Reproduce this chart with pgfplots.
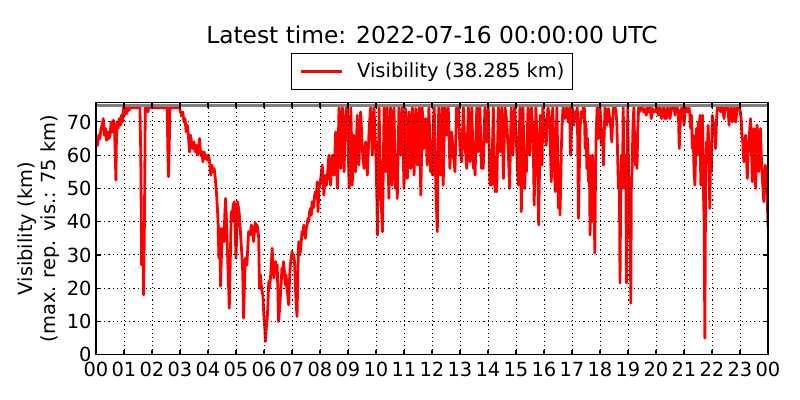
\documentclass[border=0pt]{standalone}
\usepackage{fontspec}
\setmainfont{DejaVu Sans}
\usepackage{pgfplots}
\pgfplotsset{compat=1.18}
\begin{document}
\begin{tikzpicture}
\useasboundingbox (-69.12pt,-32.6pt) rectangle (506.88pt,255.4pt);
\begin{axis}[
  at={(0,0)}, anchor=south west,
  scale only axis, width=483.84pt, height=181.5pt,
  xmin=0, xmax=24, ymin=0, ymax=75.8,
  xtick={0,1,...,24},
  xticklabels={00,01,02,03,04,05,06,07,08,09,10,11,12,13,14,15,16,17,18,19,20,21,22,23,00},
  ytick={0,10,...,70},
  tick align=inside, major tick length=3.6pt,
  xtick pos=both, ytick pos=both,
  grid=major,
  major grid style={black, line width=0.7pt, dash pattern=on 0.8pt off 2.2pt},
  axis line style={line width=0.8pt},
  every tick/.style={black, line width=0.8pt},
  axis on top,
  tick label style={font=\fontsize{14}{16.8}\selectfont},
  /pgf/number format/assume math mode=true,
  xticklabel style={inner ysep=5pt, inner xsep=0pt},
  yticklabel style={inner xsep=3pt, inner ysep=0pt},
  title={Latest time: 2022-07-16 00:00:00 UTC},
  every axis title/.style={at={(0.5,1)}, anchor=base, yshift=42.6pt, font=\fontsize{16.8}{20}\selectfont},
  ylabel={Visibility (km)\\(max. rep. vis.: 75 km)},
  every axis y label/.style={at={(rel axis cs:0,0.5)}, xshift=-41.5pt, rotate=90, anchor=center, align=center, font=\fontsize{14}{16.8}\selectfont},
  legend style={at={(0.5,1)}, anchor=south, yshift=9.1pt, draw=black, line width=0.8pt,
    font=\fontsize{14}{16.8}\selectfont, inner xsep=5.8pt, inner ysep=6.5pt,
    nodes={inner sep=0pt, text depth=0.2em},
    /tikz/every odd column/.append style={column sep=10pt}},
  legend image code/.code={\draw[#1, line width=2pt] (0pt,0pt) -- (29.5pt,0pt);},
]
\addplot[red, line width=2pt, line join=round] coordinates {
(0.00,62.5) (0.03,64) (0.06,63) (0.10,66) (0.14,65) (0.18,68) (0.22,69) (0.26,71) (0.30,66) (0.34,68) (0.38,64.5) (0.42,67) (0.46,65) (0.50,66) (0.54,70) (0.58,67) (0.62,70.5) (0.66,68) (0.69,60) (0.71,52.5) (0.73,65) (0.75,70) (0.79,68) (0.83,71) (0.87,69) (0.91,72) (0.95,70) (0.98,74.3) (1.02,72) (1.06,74.3) (1.10,72.5) (1.14,74.3) (1.18,73.5) (1.22,74.3) (1.35,74.3) (1.50,74.3) (1.57,74.3) (1.60,60) (1.63,27) (1.66,40) (1.70,18) (1.73,40) (1.76,74.3) (1.82,74.3) (1.85,73) (1.88,74.3) (2.10,74.3) (2.35,74.3) (2.54,74.3) (2.57,60) (2.59,53.5) (2.61,60) (2.64,74.3) (2.85,74.3) (2.98,74.3)
(3.02,73) (3.06,72) (3.10,73) (3.14,70) (3.18,71) (3.22,67) (3.26,69) (3.30,66) (3.34,61) (3.38,66) (3.42,63) (3.46,62) (3.50,64) (3.54,61) (3.58,63) (3.62,60) (3.66,62) (3.70,65) (3.74,60) (3.78,61) (3.82,58) (3.86,61) (3.90,59) (3.94,60) (3.98,58.5) (4.02,60) (4.06,58) (4.10,54) (4.14,57) (4.18,55) (4.22,56) (4.26,53) (4.30,49)
(4.33,45) (4.36,40) (4.39,29) (4.42,38) (4.45,20.6) (4.48,30) (4.51,38) (4.54,36) (4.57,34) (4.60,42) (4.63,47) (4.66,40) (4.69,32) (4.72,25) (4.76,14) (4.80,30) (4.83,43) (4.86,40) (4.90,45) (4.94,46) (4.97,38) (5.00,29) (5.03,38) (5.06,46) (5.09,44) (5.12,42) (5.15,38) (5.18,34) (5.21,30) (5.24,25) (5.27,11) (5.30,20) (5.33,29) (5.36,28) (5.39,27) (5.42,32) (5.45,37) (5.50,36) (5.55,39) (5.59,37) (5.63,34) (5.66,38) (5.69,39.7) (5.72,37) (5.75,39) (5.78,38) (5.81,35) (5.84,20) (5.87,24) (5.90,21) (5.93,19) (5.96,18) (6.00,11) (6.03,8) (6.05,4) (6.08,8) (6.11,10) (6.14,15) (6.17,22) (6.20,20) (6.23,23) (6.26,27) (6.29,32) (6.32,27) (6.35,23) (6.38,25) (6.41,28) (6.44,25) (6.47,27) (6.50,18) (6.52,10) (6.55,13) (6.58,17) (6.61,21) (6.64,26) (6.67,24) (6.70,28) (6.73,25) (6.76,21) (6.79,24) (6.82,20) (6.85,18) (6.88,15) (6.91,22) (6.94,27) (6.97,29) (7.00,31) (7.03,29) (7.06,30) (7.09,28) (7.12,21) (7.15,15) (7.18,11.5) (7.21,25) (7.24,34) (7.27,30) (7.30,31) (7.33,34) (7.36,37) (7.39,36) (7.42,39) (7.45,37) (7.48,35) (7.51,38) (7.54,39) (7.57,41) (7.60,40) (7.63,43) (7.66,44) (7.69,42) (7.72,46) (7.75,44) (7.78,45) (7.81,48) (7.84,49) (7.87,47) (7.90,52) (7.93,43) (7.96,50) (8.00,51) (8.04,54) (8.08,57) (8.11,53) (8.14,48) (8.17,52) (8.20,54) (8.23,51) (8.26,53) (8.29,57) (8.32,60) (8.35,56) (8.38,51) (8.41,56) (8.44,60) (8.47,57)
(8.50,54) (8.53,60) (8.56,67) (8.59,60) (8.62,50) (8.65,62) (8.68,74.3) (8.71,66) (8.74,56) (8.77,66) (8.80,74.3) (8.83,65) (8.86,55) (8.89,65) (8.92,72) (8.95,74.3) (8.98,74.3) (9.01,62) (9.04,50) (9.07,62) (9.10,74.3) (9.13,63) (9.15,51) (9.18,58) (9.21,66) (9.24,60) (9.27,55) (9.30,62) (9.33,72) (9.36,64) (9.39,57) (9.42,65) (9.45,73) (9.48,68) (9.51,62) (9.54,59) (9.57,56) (9.60,60) (9.63,64) (9.66,59) (9.69,54) (9.72,60) (9.75,67) (9.78,71) (9.81,74.3) (9.84,68) (9.87,60) (9.90,68) (9.93,74.3) (9.96,67) (10.00,59) (10.03,48) (10.05,36) (10.08,55) (10.11,74.3) (10.14,62) (10.17,49) (10.20,43) (10.23,37) (10.26,56) (10.29,74.3) (10.32,65) (10.35,55) (10.38,65) (10.40,74.3) (10.43,61) (10.46,47) (10.49,61) (10.52,74.3) (10.55,63) (10.58,51) (10.61,63) (10.64,74.3) (10.67,62) (10.70,50) (10.73,60) (10.76,47) (10.79,61) (10.82,74.3) (10.85,67) (10.88,60) (10.91,67) (10.94,74.3) (10.97,62) (11.00,50) (11.03,62) (11.06,74) (11.09,63) (11.12,53) (11.15,63) (11.18,73) (11.21,64) (11.24,56) (11.27,65) (11.30,74.3) (11.33,64) (11.36,54) (11.39,64) (11.42,74) (11.45,65) (11.48,57) (11.51,66) (11.54,74.3) (11.57,61) (11.60,48) (11.63,61) (11.65,74.3) (11.68,68) (11.71,62) (11.74,66) (11.77,71) (11.80,64) (11.83,57) (11.86,66) (11.89,74.3) (11.92,65) (11.95,55) (11.98,64)
(12.02,54) (12.05,70) (12.08,74.3) (12.11,62) (12.14,49) (12.19,37) (12.21,55) (12.24,74.3) (12.27,64) (12.30,54) (12.33,65) (12.36,74.3) (12.40,51) (12.43,63) (12.46,74.3) (12.49,70) (12.52,66) (12.55,72) (12.58,74.3) (12.61,65) (12.64,56) (12.67,62) (12.70,67) (12.73,64) (12.76,60) (12.79,58) (12.82,55) (12.85,65) (12.88,74.3) (12.91,70) (12.94,74.3) (12.97,68) (13.00,62) (13.03,60) (13.06,58) (13.09,67) (13.12,74.3) (13.15,68) (13.18,62) (13.21,60) (13.24,56) (13.27,66) (13.30,74.3) (13.33,66) (13.36,58) (13.39,66) (13.42,74.3) (13.45,65) (13.48,56) (13.51,62) (13.54,54) (13.57,65) (13.60,74.3) (13.63,68) (13.65,61) (13.68,68) (13.71,74.3) (13.74,65) (13.77,56) (13.80,64) (13.83,56) (13.86,65) (13.89,74.3) (13.92,70) (13.95,64) (13.98,70) (14.01,74.3) (14.04,62) (14.07,51) (14.10,60) (14.13,51) (14.16,63) (14.19,74.3) (14.22,62) (14.25,49) (14.28,58) (14.31,49) (14.34,62) (14.37,74.3) (14.40,68) (14.43,61) (14.46,68) (14.49,74.3) (14.52,64) (14.55,53) (14.58,64) (14.61,74.3) (14.64,72) (14.67,70) (14.70,65) (14.73,60) (14.75,55) (14.77,50) (14.80,62) (14.83,74.3) (14.86,68) (14.89,60) (14.92,68) (14.95,74.3) (14.98,70) (15.02,63) (15.05,57) (15.08,51) (15.11,63) (15.14,74.3) (15.17,60) (15.19,43) (15.22,60) (15.25,74.3) (15.28,62) (15.31,50) (15.34,60) (15.37,55) (15.40,65) (15.43,74.3) (15.46,68) (15.49,60) (15.52,68) (15.55,74.3) (15.58,70) (15.61,67) (15.63,56) (15.65,45) (15.68,60) (15.71,74.3) (15.74,68) (15.76,63) (15.79,50) (15.81,39) (15.84,56) (15.87,72) (15.90,64) (15.93,57) (15.96,74.3) (15.99,71)
(16.02,71) (16.05,66) (16.08,63) (16.11,70) (16.14,74.3) (16.17,73) (16.20,71) (16.23,62) (16.26,52) (16.29,64) (16.31,74.3) (16.34,67) (16.36,60) (16.38,55) (16.40,49) (16.43,62) (16.46,74.3) (16.49,60) (16.52,44) (16.55,55) (16.57,42) (16.60,52) (16.62,62) (16.65,70) (16.68,74.3) (16.71,73) (16.74,71) (16.77,73) (16.80,74.3) (16.83,72) (16.86,70) (16.89,73) (16.92,74.3) (16.95,60) (16.98,68) (17.01,74.3) (17.04,72) (17.07,69) (17.10,73) (17.13,71) (17.16,73) (17.19,74.3) (17.21,60) (17.23,41) (17.26,55) (17.29,68) (17.32,73) (17.35,71) (17.38,73) (17.41,74.3) (17.44,74.3) (17.47,62) (17.50,70) (17.53,56) (17.56,65) (17.59,52) (17.62,60) (17.645,36) (17.67,55) (17.70,40) (17.73,60) (17.76,52) (17.79,45) (17.815,30.6) (17.84,55) (17.87,68) (17.90,74.3) (17.93,70) (17.95,65) (17.98,70) (18.00,74.3) (18.03,70) (18.06,63) (18.09,68) (18.12,57) (18.15,66) (18.18,74.3) (18.21,72) (18.24,69) (18.27,72) (18.30,74) (18.33,72) (18.36,70) (18.39,68) (18.42,64) (18.45,70) (18.48,74.3) (18.51,74) (18.54,74.3) (18.57,73) (18.60,70) (18.63,60) (18.66,50) (18.69,55) (18.715,21.6) (18.74,50) (18.77,60) (18.80,50) (18.83,74.3) (18.86,55) (18.89,50) (18.92,60) (18.945,21.6) (18.97,50) (18.99,74.3) (19.02,55) (19.045,35) (19.07,50) (19.10,15.5) (19.12,50) (19.15,57) (19.18,70) (19.21,74.3) (19.24,62) (19.27,57) (19.30,66) (19.32,56) (19.35,68) (19.38,74.3) (19.41,73) (19.44,74) (19.47,74.3) (19.50,74.3) (19.55,73) (19.60,74) (19.65,72) (19.70,74.3) (19.75,73) (19.80,74.3) (19.83,71) (19.88,74) (19.95,73)
(20.02,74) (20.05,74.3) (20.08,72) (20.11,74) (20.14,74.3) (20.17,73) (20.20,71) (20.23,74) (20.26,73) (20.29,74.3) (20.32,71) (20.35,73) (20.38,71) (20.41,74.3) (20.44,73) (20.47,74) (20.50,71) (20.53,73) (20.56,74.3) (20.62,74.3) (20.65,74) (20.68,72) (20.71,74) (20.74,74.3) (20.77,74) (20.80,73) (20.83,62) (20.86,68) (20.88,73) (20.91,74) (20.94,74.3) (20.97,73) (21.00,69) (21.03,72) (21.06,74.3) (21.09,74) (21.12,73) (21.15,74) (21.18,74.3) (21.21,72) (21.24,68) (21.27,72) (21.30,62) (21.33,66) (21.36,55) (21.39,51) (21.42,62) (21.45,68) (21.48,60) (21.51,70) (21.54,62) (21.57,72) (21.60,51) (21.63,60) (21.66,72) (21.69,50) (21.72,40) (21.745,5) (21.77,50) (21.80,64) (21.83,60) (21.86,69) (21.89,62) (21.92,44) (21.95,60) (21.98,55) (22.01,72) (22.04,70) (22.08,69) (22.11,66) (22.13,62) (22.16,70) (22.19,74.3) (22.25,74.3) (22.28,74) (22.31,73) (22.34,74.3) (22.37,74.3) (22.40,73) (22.43,71) (22.46,74) (22.49,74.3) (22.55,74.3) (22.58,73) (22.61,69) (22.64,73) (22.67,74.3) (22.70,73) (22.73,70) (22.76,73) (22.79,74.3) (22.82,73) (22.85,70) (22.88,73) (22.90,74.3) (22.98,74.3) (23.01,73) (23.04,71) (23.07,66) (23.10,64) (23.12,60) (23.14,58) (23.17,63) (23.20,66) (23.23,60) (23.26,53) (23.29,60) (23.32,64) (23.35,68) (23.38,71) (23.41,62) (23.44,52) (23.47,62) (23.50,68) (23.53,60) (23.56,50) (23.59,62) (23.61,69) (23.64,62) (23.67,55) (23.70,62) (23.73,68) (23.76,60) (23.79,54) (23.82,50) (23.85,46) (23.88,52) (23.90,57) (23.93,56) (23.95,55) (23.98,45) (24.00,38.285)
};
\addlegendentry{Visibility (38.285 km)}
\addplot[color={rgb,255:red,128;green,128;blue,128}, line width=2pt, forget plot] coordinates {(0,75) (24,75)};
\end{axis}
\end{tikzpicture}
\end{document}
